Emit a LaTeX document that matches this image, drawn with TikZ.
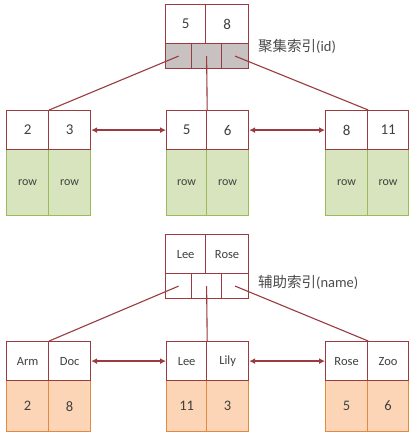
\documentclass[tikz,border=0pt]{standalone}
\usepackage{fontspec}
\setmainfont{Carlito}
\newfontfamily\cjk{Noto Sans CJK SC}
\usetikzlibrary{arrows.meta}
\definecolor{bred}{RGB}{155,58,64}
\definecolor{gfill}{RGB}{215,228,189}
\definecolor{gline}{RGB}{155,187,89}
\definecolor{ofill}{RGB}{251,213,181}
\definecolor{oline}{RGB}{224,140,62}
\definecolor{pgray}{RGB}{200,193,193}
\tikzset{
  x=1pt,y=-1pt,
  cell/.style={draw, anchor=north west, inner sep=0pt, line width=1.2pt, text=black!75},
  keycell/.style={cell, draw=bred, fill=white, minimum height=39pt},
  ptrcell/.style={cell, draw=bred, minimum height=25pt},
  rowcell/.style={cell, draw=gline, fill=gfill, minimum height=66pt, font=\fontsize{12}{14}\selectfont},
  valcell/.style={cell, draw=oline, fill=ofill, minimum height=51pt, font=\fontsize{14.5}{16}\selectfont},
  link/.style={draw=bred, line width=1.1pt},
  sib/.style={draw=bred, line width=1.3pt, {Latex[length=6pt,width=6pt]}-{Latex[length=6pt,width=6pt]}},
  lbl/.style={anchor=west, inner sep=0pt, text=black!70, font=\fontsize{14.5}{16}\selectfont},
  num/.style={font=\fontsize{15}{17}\selectfont},
  nm/.style={font=\fontsize{12.5}{14}\selectfont}
}
\begin{document}
\begin{tikzpicture}
\fill[white] (0,0) rectangle (416,442);
\useasboundingbox (0,0) rectangle (416,442);
% ===== clustered index =====
\node[ptrcell, fill=pgray, minimum width=26pt] (ap1) at (165,43) {};
\node[ptrcell, fill=pgray, minimum width=30pt] (ap2) at (191,43) {};
\node[ptrcell, fill=pgray, minimum width=27pt] (ap3) at (221,43) {};
\node[keycell, num, minimum width=40pt] (ak1) at (165,4) {5};
\node[keycell, num, minimum width=43pt] (ak2) at (205,4) {8};
\node[lbl] (alabel) at (258,46) {{\cjk 聚集索引}(id)};
% leaves
\node[rowcell, minimum width=42pt] (a1r1) at (6,149) {row};
\node[rowcell, minimum width=42pt] (a1r2) at (48,149) {row};
\node[keycell, num, minimum width=42pt] (a1k1) at (6,110) {2};
\node[keycell, num, minimum width=42pt] (a1k2) at (48,110) {3};
\node[rowcell, minimum width=40pt] (a2r1) at (166,149) {row};
\node[rowcell, minimum width=42pt] (a2r2) at (206,149) {row};
\node[keycell, num, minimum width=40pt] (a2k1) at (166,110) {5};
\node[keycell, num, minimum width=42pt] (a2k2) at (206,110) {6};
\node[rowcell, minimum width=42pt] (a3r1) at (325,149) {row};
\node[rowcell, minimum width=41pt] (a3r2) at (367,149) {row};
\node[keycell, num, minimum width=42pt] (a3k1) at (325,110) {8};
\node[keycell, num, minimum width=41pt] (a3k2) at (367,110) {11};
\draw[link] (ap1.center) -- (a1k1.north east);
\draw[link] (ap2.center) -- (a2k1.north east);
\draw[link] (ap3.center) -- (a3k1.north east);
\draw[sib] (a1k2.east) -- (a2k1.west);
\draw[sib] (a2k2.east) -- (a3k1.west);
% ===== secondary index =====
\node[ptrcell, fill=white, minimum width=26pt] (bp1) at (165,273) {};
\node[ptrcell, fill=white, minimum width=30pt] (bp2) at (191,273) {};
\node[ptrcell, fill=white, minimum width=27pt] (bp3) at (221,273) {};
\node[keycell, nm, minimum width=40pt] (bk1) at (165,234) {Lee};
\node[keycell, nm, minimum width=43pt] (bk2) at (205,234) {Rose};
\node[lbl] (blabel) at (258,282) {{\cjk 辅助索引}(name)};
% leaves
\node[valcell, minimum width=42pt] (b1v1) at (6,380) {2};
\node[valcell, minimum width=42pt] (b1v2) at (48,380) {8};
\node[keycell, nm, minimum width=42pt] (b1k1) at (6,341) {Arm};
\node[keycell, nm, minimum width=42pt] (b1k2) at (48,341) {Doc};
\node[valcell, minimum width=40pt] (b2v1) at (166,380) {11};
\node[valcell, minimum width=42pt] (b2v2) at (206,380) {3};
\node[keycell, nm, minimum width=40pt] (b2k1) at (166,341) {Lee};
\node[keycell, nm, minimum width=42pt] (b2k2) at (206,341) {Lily};
\node[valcell, minimum width=42pt] (b3v1) at (325,380) {5};
\node[valcell, minimum width=41pt] (b3v2) at (367,380) {6};
\node[keycell, nm, minimum width=42pt] (b3k1) at (325,341) {Rose};
\node[keycell, nm, minimum width=41pt] (b3k2) at (367,341) {Zoo};
\draw[link] (bp1.center) -- (b1k1.north east);
\draw[link] (bp2.center) -- (b2k1.north east);
\draw[link] (bp3.center) -- (b3k1.north east);
\draw[sib] (b1k2.east) -- (b2k1.west);
\draw[sib] (b2k2.east) -- (b3k1.west);
\end{tikzpicture}
\end{document}
